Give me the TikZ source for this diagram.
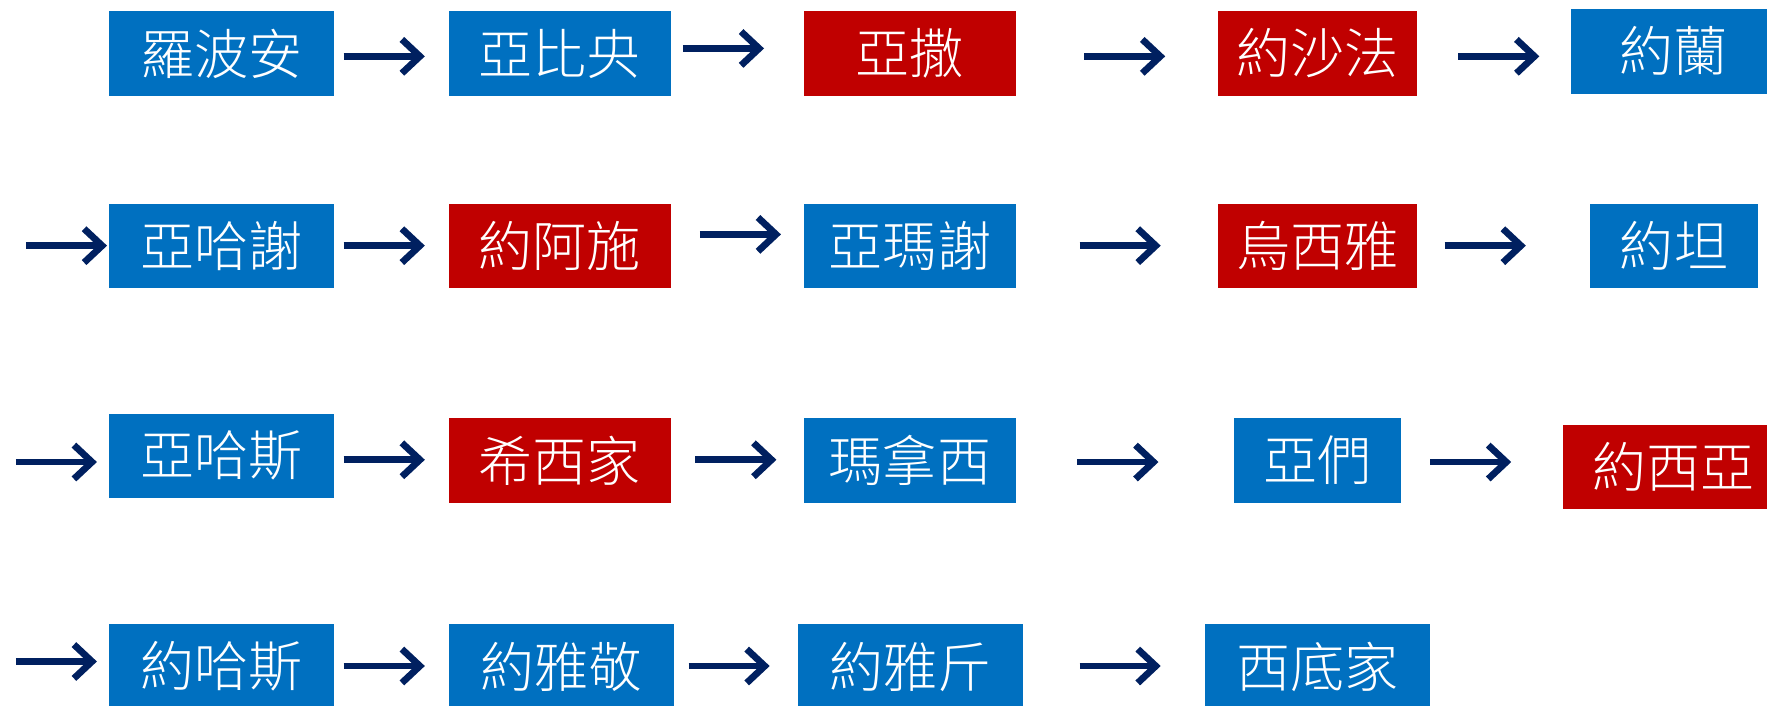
\documentclass[tikz,border=0pt]{standalone}
\usepackage{fontspec}
\IfFontExistsTF{Noto Sans CJK TC Light}{\newfontfamily\cjk{Noto Sans CJK TC Light}}{\newfontfamily\cjk{Noto Sans CJK TC}}
\usetikzlibrary{arrows.meta}
\definecolor{bblue}{HTML}{0070C0}
\definecolor{bred}{HTML}{C00000}
\definecolor{anavy}{HTML}{002060}
\newcommand\bx[7]{\node[#6, minimum width={(#3-#2)*0.5pt}, minimum height={(#5-#4)*0.5pt}] (#1) at ({(#2+#3)/2},{(#4+#5)/2}) {#7};}
\newcommand\arr[4]{\coordinate (#1s) at (#2,#4); \coordinate (#1e) at (#3,#4); \draw[link] (#1s) -- (#1e);}
\begin{document}
\begin{tikzpicture}[x=0.5pt,y=-0.5pt,
 box/.style={inner sep=0pt, outer sep=0pt, text=white, font=\cjk\fontsize{24}{27}\selectfont, anchor=center},
 bluebox/.style={box, fill=bblue},
 redbox/.style={box, fill=bred},
 link/.style={draw=anavy, line width=3pt, -{Straight Barb[length=8pt,width=15pt]}}]
\useasboundingbox (0,0) rectangle (1568,626);
\clip (0,0) rectangle (1568,626);
% row 1
\bx{n1}{97}{296}{10}{85}{bluebox}{羅波安}
\bx{n2}{398}{595}{10}{85}{bluebox}{亞比央}
\bx{n3}{713}{902}{10}{85}{redbox}{亞撒}
\bx{n4}{1081}{1257}{10}{85}{redbox}{約沙法}
\bx{n5}{1394}{1576}{8}{83}{bluebox}{約蘭}
% row 2
\bx{n6}{97}{296}{181}{256}{bluebox}{亞哈謝}
\bx{n7}{398}{595}{181}{256}{redbox}{約阿施}
\bx{n8}{713}{902}{181}{256}{bluebox}{亞瑪謝}
\bx{n9}{1081}{1257}{181}{256}{redbox}{烏西雅}
\bx{n10}{1411}{1560}{181}{256}{bluebox}{約坦}
% row 3
\bx{n11}{97}{296}{367}{442}{bluebox}{亞哈斯}
\bx{n12}{398}{595}{371}{446}{redbox}{希西家}
\bx{n13}{713}{902}{371}{446}{bluebox}{瑪拿西}
\bx{n14}{1095}{1243}{371}{446}{bluebox}{亞們}
\bx{n15}{1387}{1583}{377}{452}{redbox}{約西亞}
% row 4
\bx{n16}{97}{296}{554}{629}{bluebox}{約哈斯}
\bx{n17}{398}{598}{554}{629}{bluebox}{約雅敬}
\bx{n18}{708}{908}{554}{629}{bluebox}{約雅斤}
\bx{n19}{1069}{1269}{554}{629}{bluebox}{西底家}
% arrows
\arr{a1}{305}{377}{50}
\arr{a2}{606}{678}{43}
\arr{a3}{962}{1034}{50}
\arr{a4}{1294}{1366}{50}
\arr{a5}{23}{95}{218}
\arr{a6}{305}{377}{218}
\arr{a7}{621}{693}{208}
\arr{a8}{958}{1030}{218}
\arr{a9}{1282}{1354}{218}
\arr{a10}{14}{86}{410}
\arr{a11}{305}{377}{408}
\arr{a12}{617}{689}{408}
\arr{a13}{956}{1028}{410}
\arr{a14}{1269}{1341}{410}
\arr{a15}{14}{86}{587}
\arr{a16}{305}{377}{591}
\arr{a17}{611}{683}{591}
\arr{a18}{958}{1030}{591}
\end{tikzpicture}
\end{document}
